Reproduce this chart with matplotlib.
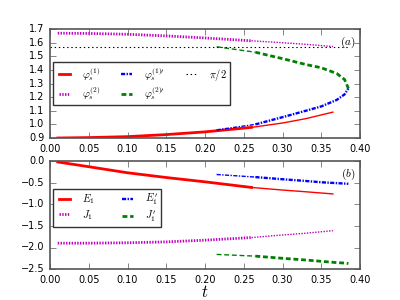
import matplotlib
matplotlib.use('Agg')
import matplotlib.pyplot as plt

plt.style.use('classic')
plt.rcParams['mathtext.fontset'] = 'cm'
plt.rcParams['font.size'] = 7
plt.rcParams['lines.scale_dashes'] = False

# branch 1 (stable part thick, then thin)
t1a = [0.01, 0.05, 0.10, 0.15, 0.20, 0.26]
t1b = [0.26, 0.30, 0.33, 0.365]
phi1a = [0.900, 0.903, 0.910, 0.925, 0.945, 0.978]
phi1b = [0.978, 1.010, 1.042, 1.090]
phi2a = [1.670, 1.668, 1.662, 1.650, 1.635, 1.614]
phi2b = [1.614, 1.600, 1.588, 1.572]
E1a = [-0.02, -0.13, -0.27, -0.38, -0.48, -0.61]
E1b = [-0.61, -0.67, -0.71, -0.76]
J1a = [-1.90, -1.90, -1.89, -1.87, -1.83, -1.77]
J1b = [-1.77, -1.71, -1.67, -1.61]

# branch 2 (thin first, then thick)
t2a = [0.215, 0.24, 0.265]
t2b = [0.265, 0.30, 0.33, 0.35, 0.37, 0.38, 0.385]
phi1pa = [0.960, 0.980, 1.000]
phi1pb = [1.000, 1.053, 1.100, 1.132, 1.180, 1.220, 1.265]
phi2pa = [1.570, 1.550, 1.530]
phi2pb = [1.530, 1.483, 1.440, 1.416, 1.374, 1.330, 1.265]
E1pa = [-0.31, -0.34, -0.37]
E1pb = [-0.37, -0.42, -0.46, -0.49, -0.51, -0.52, -0.525]
J1pa = [-2.16, -2.18, -2.20]
J1pb = [-2.20, -2.25, -2.29, -2.32, -2.35, -2.36, -2.37]

pi_half = 1.5708
t_pi = [0.0, 0.385]

DOT = (1, 1)
DASH = (3.5, 2)
DDOT = (3, 1, 1, 1)

fig = plt.figure(figsize=(4, 3), dpi=100, facecolor='w')
ax1 = fig.add_axes([0.125, 0.54, 0.775, 0.363])
ax2 = fig.add_axes([0.125, 0.103, 0.775, 0.36])

# top panel
ax1.plot(t1a, phi1a, 'r-', lw=2, label=r'$\varphi_s^{(1)}$')
ax1.plot(t1b, phi1b, 'r-', lw=1)
ax1.plot(t1a, phi2a, color='m', dashes=DOT, lw=2, label=r'$\varphi_s^{(2)}$')
ax1.plot(t1b, phi2b, color='m', dashes=DOT, lw=1)
ax1.plot(t2b, phi1pb, color='b', dashes=DDOT, lw=1.7, label=r"$\varphi_s^{(1)\prime}$")
ax1.plot(t2a, phi1pa, color='b', dashes=DDOT, lw=1)
ax1.plot(t2b, phi2pb, color='g', dashes=DASH, lw=2, label=r"$\varphi_s^{(2)\prime}$")
ax1.plot(t2a, phi2pa, color='g', dashes=DASH, lw=1)
ax1.plot(t_pi, [pi_half, pi_half], color='k', dashes=(1, 2), lw=0.8, label=r'$\pi/2$')
ax1.set_xlim(0, 0.4)
ax1.set_ylim(0.9, 1.7)
ax1.set_yticks([0.9, 1.0, 1.1, 1.2, 1.3, 1.4, 1.5, 1.6, 1.7])
ax1.text(0.985, 0.95, '$(a)$', transform=ax1.transAxes, ha='right', va='top', fontsize=8)
leg1 = ax1.legend(loc='center left', ncol=3, fontsize=7.5, borderaxespad=0.3, borderpad=0.3,
                  handlelength=1.6, handletextpad=0.9, columnspacing=1.7, labelspacing=0.15)

# bottom panel
ax2.plot(t1a, E1a, 'r-', lw=2, label=r'$E_1$')
ax2.plot(t1b, E1b, 'r-', lw=1)
ax2.plot(t1a, J1a, color='m', dashes=DOT, lw=2, label=r'$J_1$')
ax2.plot(t1b, J1b, color='m', dashes=DOT, lw=1)
ax2.plot(t2b, E1pb, color='b', dashes=DDOT, lw=1.7, label=r"$E_1'$")
ax2.plot(t2a, E1pa, color='b', dashes=DDOT, lw=1)
ax2.plot(t2b, J1pb, color='g', dashes=DASH, lw=2, label=r"$J_1'$")
ax2.plot(t2a, J1pa, color='g', dashes=DASH, lw=1)
ax2.set_xlim(0, 0.4)
ax2.set_ylim(-2.5, 0)
ax2.text(0.985, 0.95, '$(b)$', transform=ax2.transAxes, ha='right', va='top', fontsize=8)
leg2 = ax2.legend(loc='upper left', bbox_to_anchor=(0.0, 0.77), ncol=2, fontsize=7.5,
                  borderaxespad=0.3, borderpad=0.3, handlelength=1.6, handletextpad=0.9,
                  columnspacing=2.3, labelspacing=0.15)
ax2.set_xlabel('$t$', fontsize=12)
ax2.xaxis.set_label_coords(0.5, -0.13)

for ax in (ax1, ax2):
    for s in ax.spines.values():
        s.set_color('#555555')
        s.set_linewidth(1.2)
    ax.tick_params(labelsize=7, color='#555555')
for leg in (leg1, leg2):
    leg.get_frame().set_edgecolor('#333333')

fig.savefig('out.png', dpi=100)
